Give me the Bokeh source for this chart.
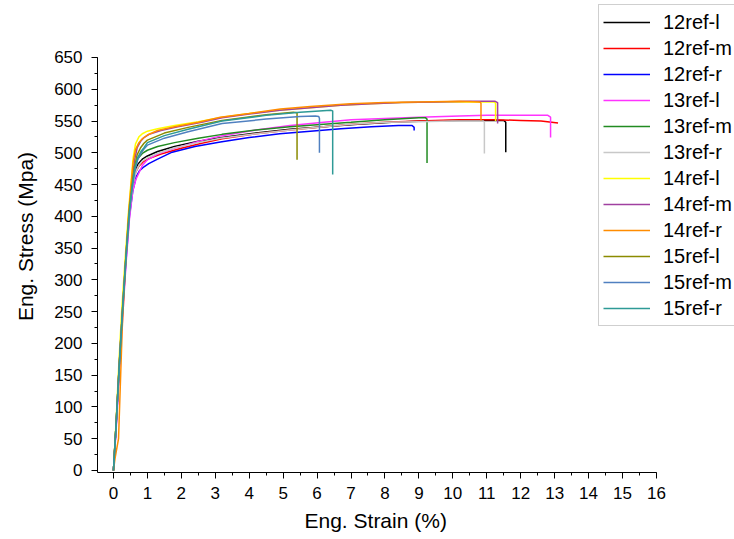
from bokeh.plotting import figure
from bokeh.models import Range1d, SingleIntervalTicker, Title
from bokeh.embed import file_html
from bokeh.resources import INLINE

# ---- data (strain %, stress MPa) ----
names = ["12ref-l", "12ref-m", "12ref-r", "13ref-l", "13ref-m", "13ref-r",
         "14ref-l", "14ref-m", "14ref-r", "15ref-l", "15ref-m", "15ref-r"]
colors = ["#000000", "#ff0000", "#0000ff", "#ff33ff", "#228b22", "#c8c8c8",
          "#ffff00", "#a040a0", "#ff8c00", "#8b8b00", "#5080c0", "#2e9a96"]

x_12l = [0, 0.08, 0.17, 0.27, 0.37, 0.47, 0.56, 0.64, 0.72, 0.85, 1.0, 1.3, 1.8, 2.5, 3.2, 4.2, 5.2, 6.2, 7.2, 8.2, 9.2, 10.2, 11.0, 11.5, 11.56, 11.56]
y_12l = [0, 75, 165, 255, 340, 415, 455, 473, 482, 490, 495, 502, 510, 518, 524, 531, 537, 541, 545, 548, 550, 551, 551, 551, 548, 501]

x_12m = [0, 0.08, 0.17, 0.27, 0.37, 0.47, 0.57, 0.66, 0.75, 0.88, 1.05, 1.4, 2.0, 2.6, 3.2, 4.2, 5.2, 6.2, 7.0, 8.0, 9.0, 10.2, 11.2, 12.0, 12.6, 13.1]
y_12m = [0, 70, 160, 250, 335, 410, 452, 470, 479, 486, 491, 498, 507, 515, 522, 530, 536, 541, 545, 548, 550, 552, 552, 551, 550, 547]

x_12r = [0, 0.08, 0.17, 0.27, 0.37, 0.47, 0.57, 0.67, 0.77, 0.9, 1.04, 1.3, 1.73, 2.4, 3.15, 4.0, 4.9, 5.8, 6.7, 7.6, 8.4, 8.8, 8.86, 8.86]
y_12r = [0, 70, 160, 250, 330, 400, 440, 462, 472, 478, 483, 490, 501, 510, 517, 524, 530, 534, 538, 541, 543, 543, 540, 535]

x_13l = [0, 0.08, 0.17, 0.27, 0.37, 0.47, 0.57, 0.66, 0.74, 0.85, 1.0, 1.3, 1.8, 2.5, 3.2, 4.2, 5.2, 6.2, 7.0, 8.0, 9.0, 10.2, 11.0, 12.0, 12.8, 12.88, 12.88]
y_13l = [0, 65, 150, 240, 325, 395, 440, 458, 467, 480, 489, 498, 507, 518, 527, 536, 543, 548, 552, 554, 556, 558, 559, 559, 559, 556, 524]

x_13m = [0, 0.08, 0.17, 0.27, 0.37, 0.47, 0.56, 0.64, 0.72, 0.85, 1.0, 1.3, 1.8, 2.5, 3.2, 4.2, 5.2, 6.2, 7.0, 8.0, 9.0, 9.2, 9.24, 9.24]
y_13m = [0, 75, 165, 255, 340, 415, 460, 480, 491, 499, 504, 510, 516, 523, 529, 536, 541, 545, 548, 552, 555, 555, 553, 484]

x_13r = [0, 0.08, 0.17, 0.27, 0.37, 0.47, 0.57, 0.66, 0.75, 0.85, 1.0, 1.3, 1.8, 2.5, 3.15, 4.2, 5.2, 6.2, 7.0, 8.0, 9.0, 10.0, 10.9, 10.93, 10.93]
y_13r = [0, 72, 162, 252, 335, 408, 450, 470, 480, 487, 492, 499, 508, 516, 523, 530, 536, 541, 545, 548, 549, 550, 550, 548, 499]

x_14l = [0, 0.08, 0.16, 0.25, 0.35, 0.45, 0.52, 0.58, 0.65, 0.75, 0.85, 1.0, 1.3, 1.8, 2.5, 3.2, 4.0, 4.9, 5.8, 6.7, 7.6, 8.5, 9.5, 10.5, 11.2, 11.26, 11.26]
y_14l = [0, 80, 170, 258, 338, 412, 455, 492, 514, 525, 530, 534, 538, 543, 549, 556, 562, 567, 571, 575, 577, 579, 580, 580, 580, 578, 550]

x_14m = [0, 0.08, 0.17, 0.27, 0.37, 0.47, 0.55, 0.62, 0.7, 0.8, 0.9, 1.05, 1.4, 1.9, 2.6, 3.2, 4.0, 4.9, 5.8, 6.7, 7.6, 8.5, 9.5, 10.5, 11.25, 11.32, 11.32]
y_14m = [0, 75, 168, 258, 340, 412, 455, 488, 508, 518, 524, 529, 535, 541, 548, 555, 561, 567, 571, 575, 577, 579, 580, 581, 581, 579, 546]

x_14r = [0, 0.05, 0.15, 0.2, 0.26, 0.35, 0.45, 0.52, 0.58, 0.65, 0.75, 0.85, 1.0, 1.3, 1.8, 2.5, 3.15, 4.0, 4.92, 5.8, 6.98, 8.0, 9.0, 10.2, 10.8, 10.83, 10.83]
y_14r = [0, 20, 50, 130, 225, 320, 405, 450, 485, 505, 516, 522, 528, 535, 541, 548, 556, 562, 569, 573, 577, 579, 580, 581, 580, 578, 551]

x_15l = [0, 0.08, 0.17, 0.27, 0.37, 0.47, 0.55, 0.62, 0.7, 0.8, 0.9, 1.0, 1.5, 2.2, 3.2, 4.5, 5.3, 5.41, 5.41]
y_15l = [0, 75, 165, 255, 338, 410, 450, 478, 497, 508, 515, 520, 531, 540, 551, 560, 564, 563, 489]

x_15m = [0, 0.08, 0.17, 0.27, 0.37, 0.47, 0.56, 0.64, 0.72, 0.82, 0.9, 1.0, 1.5, 2.2, 3.2, 4.5, 5.5, 5.95, 6.05, 6.07, 6.07]
y_15m = [0, 72, 162, 252, 335, 405, 448, 474, 490, 500, 506, 512, 523, 533, 546, 553, 557, 558, 557, 554, 500]

x_15r = [0, 0.08, 0.17, 0.27, 0.37, 0.47, 0.56, 0.63, 0.71, 0.81, 0.9, 1.0, 1.5, 2.2, 3.2, 4.5, 5.5, 6.4, 6.46, 6.46]
y_15r = [0, 74, 164, 254, 337, 408, 450, 476, 492, 502, 508, 516, 527, 537, 550, 559, 564, 567, 566, 466]

xs = [x_12l, x_12m, x_12r, x_13l, x_13m, x_13r, x_14l, x_14m, x_14r, x_15l, x_15m, x_15r]
ys = [y_12l, y_12m, y_12r, y_13l, y_13m, y_13r, y_14l, y_14m, y_14r, y_15l, y_15m, y_15r]

x_title = "Eng. Strain (%)"
y_title = "Eng. Stress (Mpa)"

FONT = "Liberation Sans"

# frame spans to the right and top edges so the legend is not clipped;
# axes are bounded to the reference's 0..16 and 0..650 spans
X0, X1, XB = -0.47, 18.30, 16
Y0, Y1, YB = -3.2, 739.7, 650

p = figure(width=734, height=539, output_backend="svg", toolbar_location=None,
           x_range=Range1d(X0, X1), y_range=Range1d(Y0, Y1),
           min_border_left=97, min_border_right=0, min_border_top=0,
           min_border_bottom=67)
p.outline_line_color = None
p.xgrid.visible = False
p.ygrid.visible = False
p.background_fill_color = "white"
p.border_fill_color = "white"

for x, y, n, c in zip(xs, ys, names, colors):
    p.line(x, y, color=c, line_width=1.5, legend_label=n)

p.xaxis.ticker = SingleIntervalTicker(interval=1, num_minor_ticks=2)
p.yaxis.ticker = SingleIntervalTicker(interval=50, num_minor_ticks=2)
p.xaxis.bounds = (X0, XB)
p.yaxis.bounds = (Y0, YB)
for ax in (p.xaxis[0], p.yaxis[0]):
    ax.axis_line_color = "black"
    ax.axis_line_width = 1
    ax.major_tick_line_color = "black"
    ax.minor_tick_line_color = "black"
    ax.major_tick_in = 0
    ax.major_tick_out = 6
    ax.minor_tick_in = 0
    ax.minor_tick_out = 3
    ax.major_label_text_font = FONT
    ax.major_label_text_font_size = "17px"
    ax.major_label_text_color = "black"
    ax.axis_label_text_font = FONT
    ax.axis_label_text_font_size = "21px"
    ax.axis_label_text_font_style = "normal"
    ax.axis_label_text_color = "black"

p.yaxis.axis_label = y_title
p.xaxis.major_label_standoff = 8
p.yaxis.major_label_standoff = 9
p.yaxis.axis_label_standoff = 14

# x-axis title centred under the 0..16 axis span (not the wider frame)
xt = Title(text=x_title, align="left", offset=207, standoff=10,
           text_font=FONT, text_font_size="21px", text_font_style="normal",
           text_color="black")
p.add_layout(xt, "below")

lg = p.legend[0]
lg.location = (501, 146)
lg.border_line_color = "#a0a0a0"
lg.border_line_width = 1
lg.background_fill_color = "white"
lg.background_fill_alpha = 1
lg.label_text_font = FONT
lg.label_text_font_size = "20px"
lg.label_text_color = "black"
lg.glyph_width = 47
lg.glyph_height = 26
lg.label_height = 26
lg.spacing = 0
lg.padding = 4
lg.label_standoff = 13
lg.margin = 0

open("out.html", "w").write(file_html(p, INLINE))
